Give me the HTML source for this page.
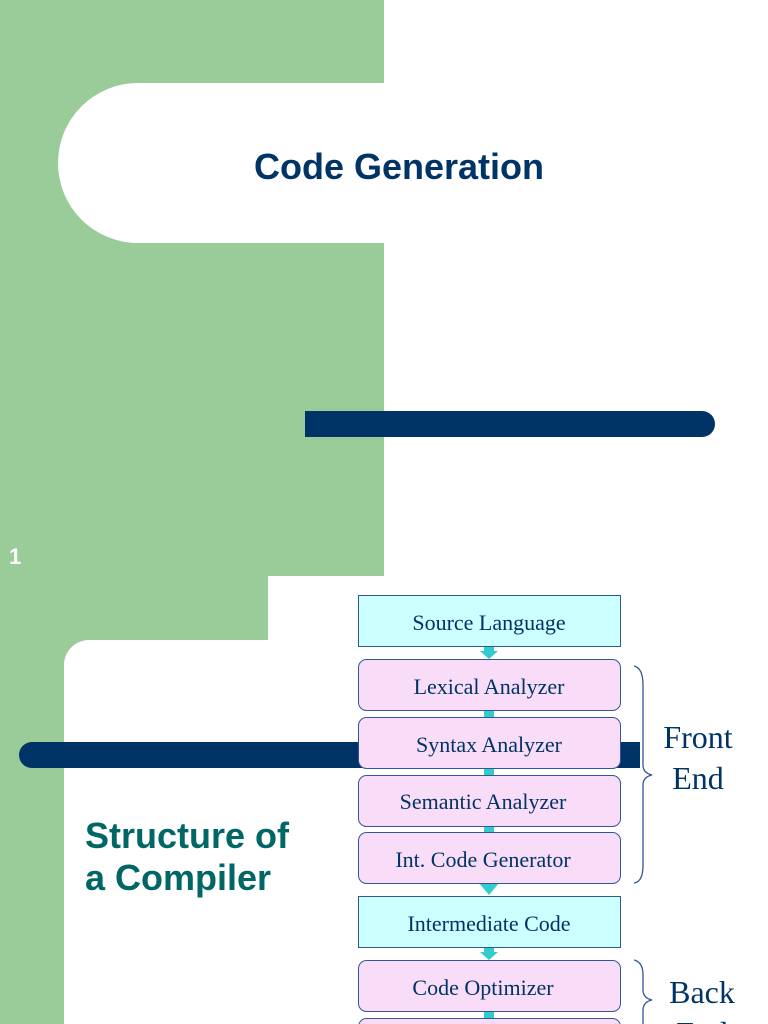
<!DOCTYPE html>
<html><head><meta charset="utf-8"><style>
html,body{margin:0;padding:0;background:#fff}
svg{display:block}
</style></head><body>
<svg width="768" height="1024" viewBox="0 0 768 1024" xmlns="http://www.w3.org/2000/svg">
<rect x="0" y="0" width="768" height="1024" fill="#fff"/>
<!-- slide 1 -->
<rect x="0" y="0" width="384" height="576" fill="#99cc99"/>
<path d="M138 83 H768 V243 H138 A80 80 0 0 1 138 83 Z" fill="#fff"/>
<text x="399" y="179" text-anchor="middle" font-family="Liberation Sans, sans-serif" font-weight="bold" font-size="36" fill="#003366">Code Generation</text>
<path d="M305 411 H702 A13 13 0 0 1 702 437 H305 Z" fill="#003366"/>
<text x="9" y="564" font-family="Liberation Sans, sans-serif" font-weight="bold" font-size="22" fill="#fff">1</text>
<!-- slide 2 -->
<rect x="0" y="576" width="268" height="448" fill="#99cc99"/>
<path d="M64 1024 V665 A25 25 0 0 1 89 640 H268 V576 H768 V1024 Z" fill="#fff"/>
<path d="M32 742 H640 V768 H32 A13 13 0 0 1 32 742 Z" fill="#003366"/>
<text x="85" y="848" font-family="Liberation Sans, sans-serif" font-weight="bold" font-size="36" fill="#006666">Structure of</text>
<text x="85" y="890" font-family="Liberation Sans, sans-serif" font-weight="bold" font-size="36" fill="#006666">a Compiler</text>
<!-- connectors -->
<g fill="#33cccc">
<rect x="484" y="646" width="10" height="6"/><polygon points="480,651 498,651 489,659"/>
<rect x="484" y="710" width="10" height="8"/>
<rect x="484" y="768" width="10" height="8"/>
<rect x="484" y="826" width="10" height="7"/>
<polygon points="479,883 499,883 489,895"/>
<rect x="484" y="947" width="10" height="6"/><polygon points="480,952 498,952 489,960"/>
<rect x="484" y="1011" width="10" height="8"/>
</g>
<g font-family="Liberation Serif, serif" font-size="22" fill="#003366" text-anchor="middle" stroke="#335599" stroke-width="1">
<rect x="358.5" y="595.5" width="262" height="51" fill="#ccffff"/>
<rect x="358.5" y="659.5" width="262" height="51" rx="8" fill="#f8dcf8"/>
<rect x="358.5" y="717.5" width="262" height="51" rx="8" fill="#f8dcf8"/>
<rect x="358.5" y="775.5" width="262" height="51" rx="8" fill="#f8dcf8"/>
<rect x="358.5" y="832.5" width="262" height="51" rx="8" fill="#f8dcf8"/>
<rect x="358.5" y="896.5" width="262" height="51" fill="#ccffff"/>
<rect x="358.5" y="960.5" width="262" height="51" rx="8" fill="#f8dcf8"/>
<rect x="358.5" y="1018.5" width="262" height="51" rx="8" fill="#f8dcf8"/>
</g>
<g font-family="Liberation Serif, serif" font-size="22" fill="#003366" text-anchor="middle">
<text x="489" y="630">Source Language</text>
<text x="489" y="694">Lexical Analyzer</text>
<text x="489" y="752">Syntax Analyzer</text>
<text x="483" y="809">Semantic Analyzer</text>
<text x="483" y="867">Int. Code Generator</text>
<text x="489" y="931">Intermediate Code</text>
<text x="483" y="995">Code Optimizer</text>
</g>
<g fill="none" stroke="#335599" stroke-width="1.3">
<path d="M634 666 Q643 668 643 685 V765 Q643 773 652 775 Q643 777 643 785 V865 Q643 882 634 883"/>
<path d="M634 960 Q643 962 643 975 V990 Q643 998 652 1000 Q643 1002 643 1010 V1024"/>
</g>
<g font-family="Liberation Serif, serif" font-size="32" fill="#003366" text-anchor="middle">
<text x="698" y="748">Front</text>
<text x="698" y="789">End</text>
<text x="702" y="1003">Back</text>
<text x="702" y="1044">End</text>
</g>
</svg>
</body></html>
